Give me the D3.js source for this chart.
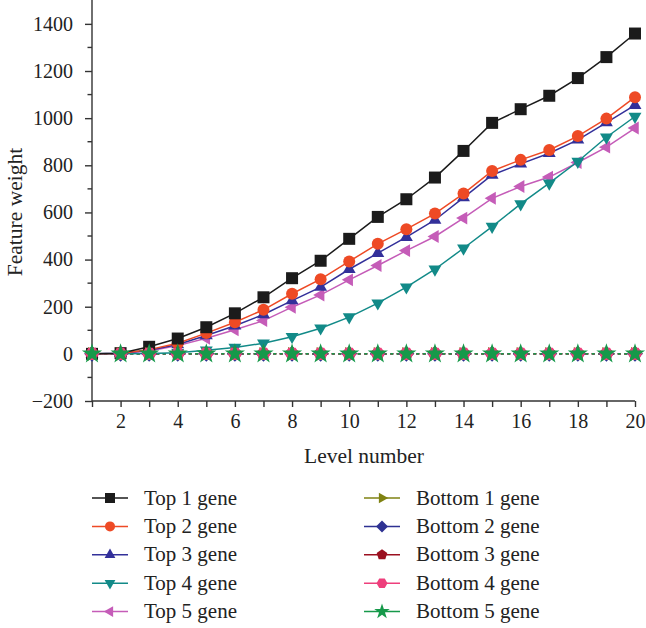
<!DOCTYPE html>
<html><head><meta charset="utf-8">
<script src="https://cdn.jsdelivr.net/npm/d3@7/dist/d3.min.js"></script>
<style>body{margin:0;background:#fff}svg{display:block}text{font-family:"Liberation Serif","DejaVu Serif",serif;fill:#222}</style>
</head><body><svg id="c" width="646" height="628"></svg>
<script>
const levels = d3.range(1, 21);
const top1 = [0, 3, 30, 65, 113, 172, 240, 321, 395, 488, 581, 656, 748, 861, 980, 1038, 1095, 1170, 1259, 1359];
const top2 = [0, 2, 18, 45, 88, 134, 187, 255, 317, 392, 467, 529, 595, 680, 776, 823, 865, 924, 998, 1089];
const top3 = [0, 3, 15, 40, 78, 119, 167, 226, 283, 359, 427, 495, 568, 663, 759, 806, 851, 908, 981, 1055];
const top4 = [0, 0, 2, 5, 15, 27, 45, 73, 109, 156, 215, 283, 359, 448, 540, 636, 724, 816, 919, 1007];
const top5 = [0, 2, 12, 35, 66, 102, 141, 198, 250, 314, 375, 438, 498, 576, 660, 710, 750, 812, 877, 958];
const bottom1 = levels.map(() => 0);
const bottom2 = levels.map(() => 0);
const bottom3 = levels.map(() => 0);
const bottom4 = levels.map(() => 0);
const bottom5 = levels.map(() => 0);
const seriesNames = ["Top 1 gene","Top 2 gene","Top 3 gene","Top 4 gene","Top 5 gene","Bottom 1 gene","Bottom 2 gene","Bottom 3 gene","Bottom 4 gene","Bottom 5 gene"];
const seriesValues = [top1, top2, top3, top4, top5, bottom1, bottom2, bottom3, bottom4, bottom5];
const colors = ["#1b1b1b","#ee4a25","#33309a","#128a88","#c55cb8","#7f8212","#2e3192","#9b1020","#ee3f7c","#16994a"];
const markers = ["square","circle","up","down","left","right","diamond","pentagon","hexagon","star"];
const yTicks = [-200, 0, 200, 400, 600, 800, 1000, 1200, 1400];
const xTickLabels = [2, 4, 6, 8, 10, 12, 14, 16, 18, 20];

const svg = d3.select("#c");
const x = d3.scaleLinear().domain([1, 20]).range([92, 635]);
const y = d3.scaleLinear().domain([-200, 1500]).range([401, 0.3]);
const FONT = '"Liberation Serif","DejaVu Serif",serif';

function poly(n, r, rot) {
  const p = [];
  for (let i = 0; i < n; i++) { const a = rot + i * 2 * Math.PI / n; p.push([r * Math.cos(a), r * Math.sin(a)]); }
  return "M" + p.map(d => d.join(",")).join("L") + "Z";
}
function markerPath(m, s) {
  const tri = (r, ang) => poly(3, r, ang);
  switch (m) {
    case "square": return `M${-s/2},${-s/2}h${s}v${s}h${-s}Z`;
    case "circle": return d3.symbol(d3.symbolCircle, Math.PI * (s/2) * (s/2))();
    case "up": return tri(s * 0.62, -Math.PI / 2);
    case "down": return tri(s * 0.62, Math.PI / 2);
    case "left": return tri(s * 0.62, Math.PI);
    case "right": return tri(s * 0.62, 0);
    case "diamond": return poly(4, s * 0.6, -Math.PI / 2);
    case "pentagon": return poly(5, s * 0.56, -Math.PI / 2);
    case "hexagon": return poly(6, s * 0.55, 0);
    case "star": return d3.symbol(d3.symbolStar, s * s * 0.75)();
  }
}

// axes
const yAxis = d3.axisLeft(y).tickValues(yTicks).tickSize(7).tickPadding(12).tickFormat(d => d < 0 ? "\u2212" + Math.abs(d) : d);
const gy = svg.append("g").attr("transform", "translate(92,0)").call(yAxis);
gy.select(".domain").attr("d", `M0,${y(-200)}V0`);
const minor = d3.range(-100, 1500, 200);
gy.selectAll(".minor").data(minor).enter().append("line").attr("class","minor")
  .attr("x1", 0).attr("x2", -4.5).attr("y1", d => y(d)).attr("y2", d => y(d));
const xAxis = d3.axisBottom(x).tickValues(levels).tickSize(6).tickPadding(7).tickFormat(d => xTickLabels.includes(d) ? d : "");
const gx = svg.append("g").attr("transform", `translate(0,${y(-200)})`).call(xAxis);
gx.select(".domain").attr("d", `M${x(1)},0H${x(20)}`);
[gx, gy].forEach(g => {
  g.attr("font-family", FONT).attr("font-size", 20);
  g.selectAll(".domain, line").attr("stroke", "#333").attr("stroke-width", 1.4);
  g.selectAll("text").attr("font-size", 20).attr("fill", "#222").style("font-family", FONT);
});

svg.append("text").attr("x", 364).attr("y", 463).attr("text-anchor", "middle").attr("font-size", 21.5).text("Level number");
svg.append("text").attr("transform", "translate(22,212) rotate(-90)").attr("text-anchor", "middle").attr("font-size", 21.5).text("Feature weight");

const line = d3.line().x((d, i) => x(levels[i])).y(d => y(d));
[5,6,7,8,9].forEach(k => {
  svg.append("path").attr("d", line(seriesValues[k])).attr("fill", "none")
    .attr("stroke", colors[k]).attr("stroke-width", 1.8).attr("stroke-dasharray", "1.5,5").attr("stroke-linecap", "round");
});
[4,3,2,1,0].forEach(k => {
  svg.append("path").attr("d", line(seriesValues[k])).attr("fill", "none").attr("stroke", colors[k]).attr("stroke-width", 1.5);
  svg.append("g").selectAll("path").data(seriesValues[k]).enter().append("path")
    .attr("transform", (d, i) => `translate(${x(levels[i])},${y(d)})`)
    .attr("d", markerPath(markers[k], 12)).attr("fill", colors[k]);
});
[5,6,7,8,9].forEach(k => {
  svg.append("g").selectAll("path").data(seriesValues[k]).enter().append("path")
    .attr("transform", (d, i) => `translate(${x(levels[i])},${y(d)})`)
    .attr("d", markerPath(markers[k], 13)).attr("fill", colors[k]);
});

// legend
const leg = svg.append("g");
seriesNames.forEach((name, k) => {
  const col = k < 5 ? 0 : 1, row = k % 5;
  const x0 = col ? 364 : 92, yy = 498 + row * 28.4;
  const g = leg.append("g").attr("transform", `translate(${x0},${yy})`);
  g.append("line").attr("x1", 0).attr("x2", 36).attr("stroke", colors[k]).attr("stroke-width", 1.5);
  g.append("path").attr("transform", "translate(18,0)").attr("d", markerPath(markers[k], 10)).attr("fill", colors[k]);
  g.append("text").attr("x", 52).attr("y", 6.5).attr("font-size", 21).text(name);
});
</script></body></html>
